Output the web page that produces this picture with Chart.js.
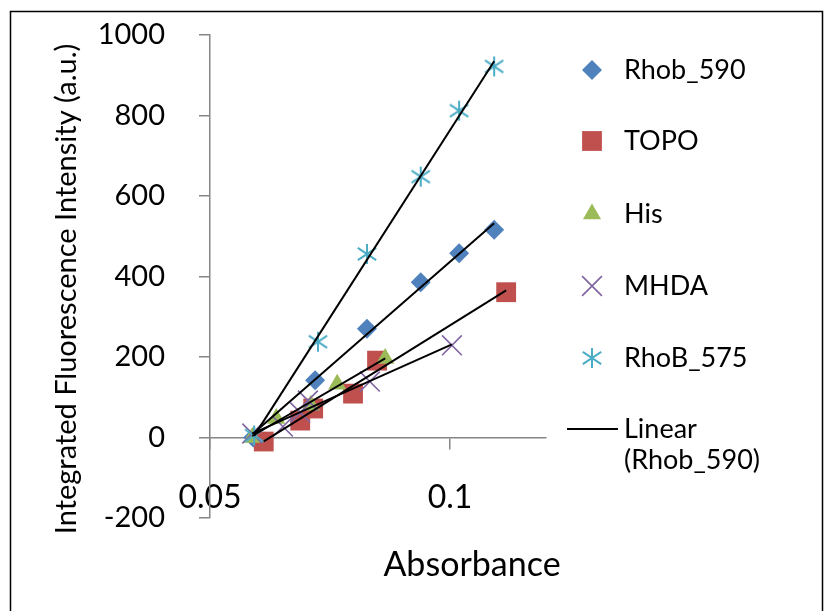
<!DOCTYPE html>
<html>
<head>
<meta charset="utf-8">
<title>Integrated Fluorescence Intensity vs Absorbance</title>
<script src="https://cdn.jsdelivr.net/npm/chart.js@4.4.0/dist/chart.umd.min.js"></script>
<style>
  html, body { margin: 0; padding: 0; background: #ffffff; }
  #wrap { width: 825px; height: 611px; }
</style>
</head>
<body>
<div id="wrap"><canvas id="chart" width="825" height="611"></canvas></div>
<script>
// ---- data ----
const seriesNames = ['Rhob_590', 'TOPO', 'His', 'MHDA', 'RhoB_575'];

const rhob590X = [0.0590, 0.0719, 0.0827, 0.0939, 0.1019, 0.1092];
const rhob590Y = [0, 142, 270, 386, 458, 516];

const topoX = [0.0612, 0.0688, 0.0715, 0.0798, 0.0848, 0.1117];
const topoY = [-10, 42, 72, 109, 191, 361];

const hisX = [0.0588, 0.0638, 0.0710, 0.0765, 0.0865];
const hisY = [0, 47, 80, 132, 196];

const mhdaX = [0.0588, 0.0652, 0.0688, 0.0704, 0.0833, 0.1004];
const mhdaY = [10, 27, 62, 92, 139, 229];

const rhob575X = [0.0592, 0.0725, 0.0827, 0.0939, 0.1019, 0.1092];
const rhob575Y = [5, 238, 456, 648, 812, 922];

const xTickValues = [0.05, 0.1];
const xTickLabels = ['0.05', '0.1'];
const yTickValues = [-200, 0, 200, 400, 600, 800, 1000];
const yTickLabels = ['-200', '0', '200', '400', '600', '800', '1000'];

const xTitle = 'Absorbance';
const yTitle = 'Integrated Fluorescence Intensity (a.u.)';
const trendLegendLines = ['Linear', '(Rhob_590)'];

// ---- helpers ----
const FONT = 'Lato, "Open Sans", sans-serif';

function toPoints(xs, ys) {
  return xs.map((x, i) => ({ x: x, y: ys[i] }));
}

// least-squares straight line over the x-range of a series
function linearTrend(xs, ys) {
  const n = xs.length;
  const mx = xs.reduce((a, b) => a + b, 0) / n;
  const my = ys.reduce((a, b) => a + b, 0) / n;
  let sxy = 0, sxx = 0;
  for (let i = 0; i < n; i++) {
    sxy += (xs[i] - mx) * (ys[i] - my);
    sxx += (xs[i] - mx) * (xs[i] - mx);
  }
  const slope = sxy / sxx;
  const icpt = my - slope * mx;
  const x0 = Math.min(...xs), x1 = Math.max(...xs);
  return [{ x: x0, y: icpt + slope * x0 }, { x: x1, y: icpt + slope * x1 }];
}

// six-spoke asterisk marker (vertical bar plus an X)
function asteriskMarker(size, color) {
  const c = document.createElement('canvas');
  c.width = size; c.height = size;
  const g = c.getContext('2d');
  const m = size / 2, r = size / 2 - 1;
  g.strokeStyle = color;
  g.lineWidth = 2;
  g.lineCap = 'butt';
  g.beginPath();
  g.moveTo(m, m - r); g.lineTo(m, m + r);
  const dx = r * 0.92, dy = r * 0.62;
  g.moveTo(m - dx, m - dy); g.lineTo(m + dx, m + dy);
  g.moveTo(m - dx, m + dy); g.lineTo(m + dx, m - dy);
  g.stroke();
  return c;
}

const colors = {
  Rhob_590: '#4F81BD',
  TOPO: '#C0504D',
  His: '#9BBB59',
  MHDA: '#8064A2',
  RhoB_575: '#4BACC6'
};

const markerStyles = {
  Rhob_590: { pointStyle: 'rectRot', radius: 10, borderWidth: 0 },
  TOPO: { pointStyle: 'rect', radius: 14, borderWidth: 0 },
  His: { pointStyle: 'triangle', radius: 10.5, borderWidth: 0 },
  MHDA: { pointStyle: 'crossRot', radius: 14, borderWidth: 1.6 },
  RhoB_575: { pointStyle: asteriskMarker(22, colors.RhoB_575), radius: 11, borderWidth: 0 }
};

const seriesData = {
  Rhob_590: [rhob590X, rhob590Y],
  TOPO: [topoX, topoY],
  His: [hisX, hisY],
  MHDA: [mhdaX, mhdaY],
  RhoB_575: [rhob575X, rhob575Y]
};

const datasets = [];

// scatter series; later series painted above earlier ones
seriesNames.forEach((name, i) => {
  const st = markerStyles[name];
  datasets.push({
    type: 'scatter',
    label: name,
    data: toPoints(seriesData[name][0], seriesData[name][1]),
    showLine: false,
    pointStyle: st.pointStyle,
    pointRadius: st.radius,
    pointHoverRadius: st.radius,
    pointBackgroundColor: colors[name],
    pointBorderColor: colors[name],
    pointBorderWidth: st.borderWidth,
    order: seriesNames.length - i + 1
  });
});

// linear trend lines, painted over the markers
seriesNames.forEach((name) => {
  datasets.push({
    type: 'line',
    label: 'Linear (' + name + ')',
    data: linearTrend(seriesData[name][0], seriesData[name][1]),
    borderColor: '#000000',
    borderWidth: 2,
    pointRadius: 0,
    fill: false,
    order: 0
  });
});

// frame, axis titles and the legend column
const decorations = {
  id: 'decorations',
  afterDraw(chart) {
    const ctx = chart.ctx;
    ctx.save();

    // outer frame
    ctx.strokeStyle = '#000000';
    ctx.lineWidth = 1.5;
    ctx.strokeRect(10.5, 11.5, 812, 640);

    // axis titles
    ctx.fillStyle = '#000000';
    ctx.textAlign = 'center';
    ctx.textBaseline = 'middle';
    ctx.font = '34px ' + FONT;
    ctx.fillText(xTitle, 472, 565);

    ctx.save();
    ctx.translate(67, 289);
    ctx.rotate(-Math.PI / 2);
    ctx.font = '29px ' + FONT;
    ctx.fillText(yTitle, 0, 0);
    ctx.restore();

    // legend
    const legendX = 592, textX = 624;
    const rowsY = [70, 141, 214, 286, 358];
    ctx.font = '27px ' + FONT;
    ctx.textAlign = 'left';
    ctx.textBaseline = 'middle';
    seriesNames.forEach((name, i) => {
      const st = markerStyles[name];
      ctx.fillStyle = colors[name];
      ctx.strokeStyle = colors[name];
      ctx.lineWidth = st.borderWidth;
      Chart.helpers.drawPoint(ctx, {
        pointStyle: st.pointStyle,
        radius: st.radius,
        rotation: 0,
        borderWidth: st.borderWidth
      }, legendX, rowsY[i]);
      ctx.fillStyle = '#000000';
      ctx.fillText(name, textX, rowsY[i]);
    });

    ctx.strokeStyle = '#000000';
    ctx.lineWidth = 2;
    ctx.beginPath();
    ctx.moveTo(567, 429);
    ctx.lineTo(618, 429);
    ctx.stroke();
    ctx.fillStyle = '#000000';
    ctx.fillText(trendLegendLines[0], textX, 429);
    ctx.fillText(trendLegendLines[1], textX, 460);

    ctx.restore();
  }
};

const AXIS_GREY = '#868686';

// the plot box is fixed by the layout padding alone
function noLabelOverhang(s) {
  s.paddingTop = 0; s.paddingBottom = 0; s.paddingLeft = 0; s.paddingRight = 0;
}

new Chart(document.getElementById('chart'), {
  data: { datasets: datasets },
  options: {
    responsive: false,
    animation: false,
    devicePixelRatio: 1,
    layout: { padding: { left: 10, top: 35, right: 279, bottom: 93 } },
    plugins: {
      legend: { display: false },
      tooltip: { enabled: false },
      title: { display: false }
    },
    scales: {
      x: {
        type: 'linear',
        min: 0.05,
        max: 0.12,
        position: { y: 0 },
        afterBuildTicks: (s) => { s.ticks = xTickValues.map(v => ({ value: v })); },
        afterFit: noLabelOverhang,
        border: { display: true, color: AXIS_GREY, width: 1.5 },
        grid: { drawOnChartArea: false, drawTicks: true, tickLength: 11, color: AXIS_GREY, lineWidth: 1.5 },
        ticks: {
          padding: 30,
          color: '#000000',
          font: { family: FONT, size: 32 },
          maxRotation: 0,
          callback: (v) => xTickLabels[xTickValues.indexOf(v)] ?? String(v)
        }
      },
      y: {
        type: 'linear',
        min: -200,
        max: 1000,
        position: 'left',
        afterBuildTicks: (s) => { s.ticks = yTickValues.map(v => ({ value: v })); },
        afterFit: (s) => { s.width = 200; noLabelOverhang(s); },
        border: { display: true, color: AXIS_GREY, width: 1.5 },
        grid: { drawOnChartArea: false, drawTicks: true, tickLength: 11, color: AXIS_GREY, lineWidth: 1.5 },
        ticks: {
          padding: 34,
          color: '#000000',
          font: { family: FONT, size: 29 },
          callback: (v) => yTickLabels[yTickValues.indexOf(v)] ?? String(v)
        }
      }
    }
  },
  plugins: [decorations]
});
</script>
</body>
</html>
